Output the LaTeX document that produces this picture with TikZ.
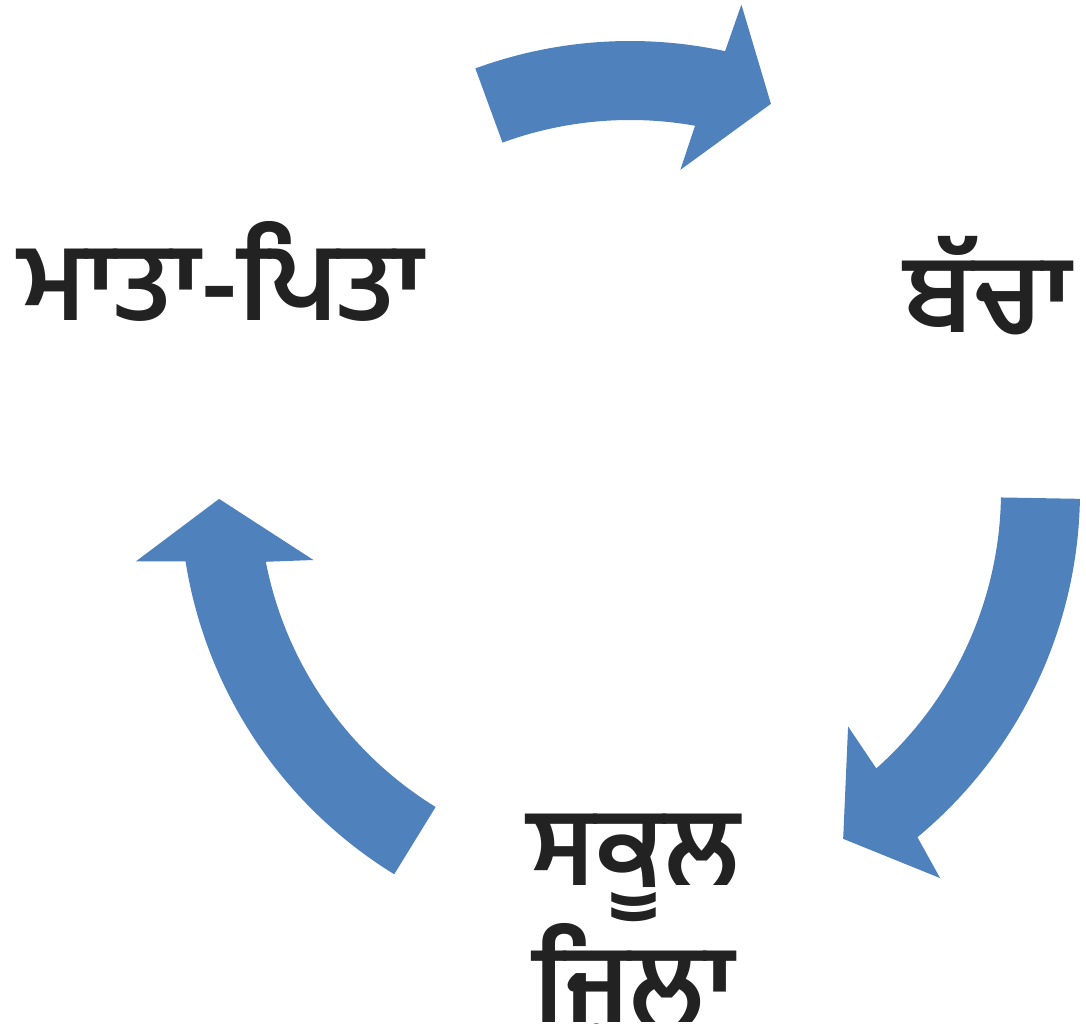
\documentclass[tikz,border=0pt]{standalone}
\usepackage{fontspec}
\usepackage{tikz}
\newfontfamily\gurmukhi[Script=Gurmukhi]{Hind Jalandhar}
\definecolor{arrowblue}{HTML}{4F81BD}
\definecolor{textgray}{HTML}{222222}

\begin{document}
\begin{tikzpicture}[x=0.025cm, y=0.025cm,
    cyclelabel/.style={text=textgray, inner sep=0pt, align=center,
      font=\gurmukhi\bfseries\fontsize{77}{88.6}\selectfont},
    arrowband/.style={fill=arrowblue}]
    \useasboundingbox (0,0) rectangle (1086,1024);

    % centre of the cycle, outer and inner radius of the band
    \coordinate (C) at (630,533);
    \pgfmathsetmacro{\Ro}{450}
    \pgfmathsetmacro{\Ri}{371}

    \begin{scope}[shift={(C)}]
      % top arrow
      \fill[arrowband] (110.1:\Ro) arc[start angle=110.1, end angle=77.8, radius=\Ro]
        -- (77.1:499) -- (70:412) -- (81.1:325) -- (79.9:\Ri)
        arc[start angle=79.9, end angle=110.1, radius=\Ri] -- cycle;
      % right arrow
      \fill[arrowband] (-1:\Ro) arc[start angle=-1, end angle=-50.3, radius=\Ro]
        -- (-51.3:496) -- (-58.5:408) -- (-47.2:321) -- (-48.4:\Ri)
        arc[start angle=-48.4, end angle=-1, radius=\Ri] -- cycle;
      % left arrow
      \fill[arrowband] (238.4:\Ro) arc[start angle=238.4, end angle=189, radius=\Ro]
        -- (188.1:499) -- (181.1:411) -- (192.3:324) -- (191:\Ri)
        arc[start angle=191, end angle=238.4, radius=\Ri] -- cycle;
    \end{scope}

    % labels
    \node[cyclelabel] (parents) at (221,753) {ਮਾਤਾ-ਪਿਤਾ};
    \node[cyclelabel] (child) at (988,738) {ਬੱਚਾ};
    \node[cyclelabel] (district) at (634,98) {ਸਕੂਲ\\ਜ਼ਿਲਾ};
\end{tikzpicture}
\end{document}
